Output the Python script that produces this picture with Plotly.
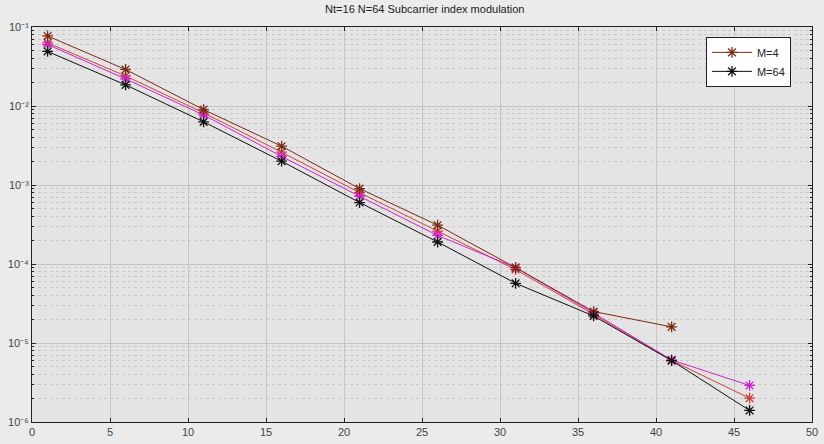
import plotly.graph_objects as go

snr = [1, 6, 11, 16, 21, 26, 31, 36, 41, 46]

ber_m4 = [0.077, 0.029, 0.0090, 0.0031, 0.00090, 0.00031, 0.000090, 0.000025, 0.000016]
ber_red = [0.063, 0.024, 0.0082, 0.0026, 0.00080, 0.00026, 0.000085, 0.000023, 0.0000060, 0.0000020]
ber_mag = [0.060, 0.022, 0.0077, 0.0023, 0.00072, 0.00023, 0.000090, 0.000024, 0.0000061, 0.0000029]
ber_m64 = [0.049, 0.0185, 0.0063, 0.0020, 0.00060, 0.00019, 0.000057, 0.000022, 0.0000060, 0.0000014]

title = "Nt=16 N=64 Subcarrier index modulation"
ytick_vals = [1e-6, 1e-5, 1e-4, 1e-3, 1e-2, 1e-1]
ytick_text = ["10\u207b\u2076", "10\u207b\u2075", "10\u207b\u2074",
              "10\u207b\u00b3", "10\u207b\u00b2", "10\u207b\u00b9"]

fig = go.Figure()

def add(y, color, name, show):
    fig.add_trace(go.Scatter(
        x=snr[:len(y)], y=y, mode="lines+markers", name=name, showlegend=show,
        line=dict(color=color, width=1),
        marker=dict(symbol="asterisk-open", size=9, line=dict(color=color, width=1.3)),
    ))

add(ber_red, "#d0403a", "red", False)
add(ber_mag, "#cc22cc", "mag", False)
add(ber_m4, "#7a2a10", "M=4", True)
add(ber_m64, "#111111", "M=64", True)

fig.update_layout(
    width=824, height=444,
    margin=dict(l=32, r=6, t=27, b=14),
    paper_bgcolor="#ebebeb", plot_bgcolor="#e4e4e4",
    font=dict(family="Liberation Sans, Arial, sans-serif", size=11, color="#333333"),
    title=dict(text=title, x=0.5155, xanchor="center", y=0.988, yanchor="top",
               font=dict(size=11, color="#222222")),
    legend=dict(x=0.973, y=0.975, xanchor="right", yanchor="top",
                bgcolor="#ffffff", bordercolor="#222222", borderwidth=1,
                font=dict(size=11, color="#222222"), itemwidth=40,
                tracegroupgap=0),
    xaxis=dict(range=[0, 50], dtick=5, showgrid=True, gridcolor="#c4c4c4", gridwidth=1,
               zeroline=False, showline=True, linecolor="#222222", linewidth=1, mirror="ticks",
               ticks="inside", ticklen=4, tickcolor="#222222",
               tickfont=dict(size=11, color="#444444")),
    yaxis=dict(type="log", range=[-6, -1], tickvals=ytick_vals, ticktext=ytick_text,
               showgrid=True, gridcolor="#c4c4c4", gridwidth=1,
               zeroline=False, showline=True, linecolor="#222222", linewidth=1, mirror="ticks",
               ticks="inside", ticklen=4, tickcolor="#222222",
               tickfont=dict(size=11, color="#444444"),
               minor=dict(tickvals=[m * 10.0**e for e in range(-6, -1) for m in range(2, 10)],
                          showgrid=True, gridcolor="#c8c8c8", griddash="dot", gridwidth=1,
                          ticks="inside", ticklen=2, tickcolor="#222222")),
)

fig.write_html("out.html")
